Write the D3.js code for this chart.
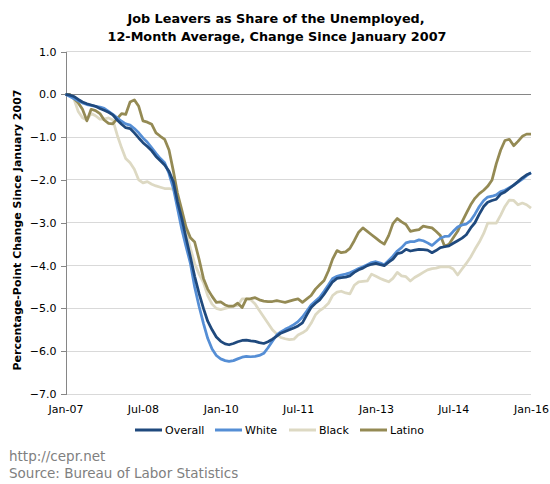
<!DOCTYPE html>
<html><head><meta charset="utf-8">
<script src="https://cdn.jsdelivr.net/npm/d3@7"></script>
<style>body{margin:0;background:#fff;} svg{display:block;}</style>
</head><body>
<svg id="c" width="550" height="484"></svg>
<script>
const startMonth = "2007-01";
const tickLabels = ["Jan-07","Jul-08","Jan-10","Jul-11","Jan-13","Jul-14","Jan-16"];
const yTicks = [1,0,-1,-2,-3,-4,-5,-6,-7];
const seriesNames = ["Overall","White","Black","Latino"];
const seriesColors = ["#1F497D","#558ED5","#DDD9C3","#948A54"];

const overall = [0,-0.02,-0.05,-0.12,-0.18,-0.22,-0.25,-0.28,-0.33,-0.37,-0.42,-0.48,-0.6,-0.7,-0.78,-0.8,-0.9,-1.02,-1.13,-1.22,-1.32,-1.45,-1.55,-1.65,-1.8,-2.05,-2.5,-2.9,-3.35,-3.8,-4.25,-4.65,-5.0,-5.3,-5.5,-5.67,-5.77,-5.83,-5.85,-5.82,-5.78,-5.75,-5.74,-5.76,-5.77,-5.8,-5.82,-5.78,-5.72,-5.65,-5.58,-5.54,-5.5,-5.46,-5.41,-5.34,-5.15,-4.98,-4.88,-4.8,-4.67,-4.52,-4.38,-4.3,-4.28,-4.27,-4.24,-4.16,-4.1,-4.06,-4.0,-3.97,-3.95,-3.98,-4.0,-3.92,-3.85,-3.72,-3.7,-3.62,-3.66,-3.64,-3.62,-3.63,-3.64,-3.7,-3.65,-3.58,-3.56,-3.54,-3.48,-3.42,-3.36,-3.28,-3.12,-3.0,-2.8,-2.62,-2.52,-2.48,-2.45,-2.33,-2.28,-2.2,-2.12,-2.04,-1.95,-1.88,-1.84];
const white = [0,-0.05,-0.1,-0.15,-0.2,-0.24,-0.26,-0.28,-0.3,-0.33,-0.4,-0.47,-0.55,-0.63,-0.69,-0.72,-0.8,-0.9,-1.02,-1.12,-1.25,-1.38,-1.5,-1.6,-1.85,-2.2,-2.65,-3.15,-3.55,-3.95,-4.5,-4.95,-5.35,-5.7,-5.95,-6.1,-6.18,-6.22,-6.24,-6.22,-6.18,-6.14,-6.12,-6.13,-6.12,-6.1,-6.05,-5.92,-5.77,-5.62,-5.55,-5.49,-5.44,-5.38,-5.31,-5.2,-5.06,-4.92,-4.83,-4.74,-4.6,-4.45,-4.3,-4.25,-4.22,-4.2,-4.17,-4.12,-4.07,-4.03,-3.98,-3.93,-3.91,-3.94,-3.98,-3.88,-3.78,-3.66,-3.58,-3.47,-3.44,-3.44,-3.4,-3.42,-3.47,-3.53,-3.45,-3.36,-3.32,-3.31,-3.2,-3.1,-3.05,-3.03,-2.95,-2.8,-2.62,-2.48,-2.4,-2.38,-2.35,-2.27,-2.24,-2.18,-2.12,-2.05,-1.98,-1.9,-1.83];
const black = [0,-0.02,-0.1,-0.4,-0.55,-0.6,-0.45,-0.5,-0.58,-0.58,-0.55,-0.6,-0.95,-1.25,-1.5,-1.6,-1.75,-2.0,-2.07,-2.04,-2.1,-2.14,-2.17,-2.2,-2.2,-2.22,-2.45,-2.8,-3.2,-3.6,-3.95,-4.2,-4.4,-4.7,-4.9,-5.0,-5.03,-5.0,-4.98,-4.95,-4.93,-4.78,-4.78,-4.8,-4.9,-5.05,-5.2,-5.35,-5.5,-5.6,-5.68,-5.71,-5.73,-5.72,-5.62,-5.57,-5.5,-5.35,-5.15,-5.05,-4.98,-4.88,-4.7,-4.62,-4.6,-4.64,-4.66,-4.46,-4.38,-4.37,-4.36,-4.2,-4.25,-4.3,-4.34,-4.38,-4.3,-4.16,-4.24,-4.26,-4.36,-4.28,-4.22,-4.16,-4.1,-4.07,-4.06,-4.03,-4.03,-4.03,-4.08,-4.22,-4.08,-3.95,-3.8,-3.62,-3.45,-3.25,-3.01,-3.01,-3.01,-2.82,-2.62,-2.47,-2.48,-2.58,-2.54,-2.58,-2.66];
const latino = [0,0,-0.1,-0.2,-0.35,-0.62,-0.35,-0.38,-0.45,-0.6,-0.68,-0.69,-0.57,-0.45,-0.47,-0.18,-0.13,-0.28,-0.62,-0.65,-0.7,-0.9,-0.98,-1.05,-1.3,-1.8,-2.3,-2.7,-3.1,-3.35,-3.45,-3.85,-4.3,-4.55,-4.72,-4.86,-4.85,-4.92,-4.95,-4.95,-4.88,-4.98,-4.78,-4.77,-4.75,-4.8,-4.83,-4.84,-4.84,-4.82,-4.84,-4.86,-4.83,-4.8,-4.78,-4.86,-4.78,-4.7,-4.55,-4.45,-4.35,-4.12,-3.85,-3.65,-3.7,-3.68,-3.6,-3.42,-3.22,-3.12,-3.2,-3.28,-3.36,-3.44,-3.5,-3.3,-3.02,-2.9,-2.98,-3.04,-3.2,-3.18,-3.16,-3.08,-3.1,-3.12,-3.2,-3.3,-3.55,-3.5,-3.35,-3.2,-2.98,-2.78,-2.58,-2.43,-2.32,-2.24,-2.15,-2.0,-1.62,-1.3,-1.08,-1.05,-1.2,-1.1,-0.98,-0.93,-0.93];

const seriesData = [overall, white, black, latino];
const parse = d3.timeParse("%Y-%m");
const t0 = parse(startMonth);
const dates = overall.map((_, i) => d3.timeMonth.offset(t0, i));
const tickDates = tickLabels.map(s => d3.timeParse("%b-%y")(s));

const svg = d3.select("#c");
const font = "Verdana, 'DejaVu Sans', sans-serif";
const L = 65.5, R = 531, T = 51.5, B = 394;
const x = d3.scaleTime().domain([dates[0], tickDates[tickDates.length-1]]).range([L, R]);
const y = d3.scaleLinear().domain([-7, 1]).range([B, T]);

// gridlines
svg.append("g").selectAll("line").data(yTicks.filter(v => v !== 0)).join("line")
  .attr("x1", L).attr("x2", R).attr("y1", d => y(d)).attr("y2", d => y(d))
  .attr("stroke", "#D9D9D9").attr("stroke-width", 1).attr("shape-rendering","crispEdges");

// y axis
const yAxis = d3.axisLeft(y).tickValues(yTicks).tickFormat(d3.format(".1f")).tickSize(5).tickPadding(4);
const ya = svg.append("g").attr("transform", `translate(${L},0)`).call(yAxis);
ya.select(".domain").attr("stroke", "#868686").attr("shape-rendering","crispEdges");
ya.selectAll(".tick line").attr("stroke", "#868686").attr("shape-rendering","crispEdges");
ya.selectAll("text").attr("font-family", font).attr("font-size", 11).attr("fill", "#000");

// zero line
svg.append("line").attr("x1", L).attr("x2", R).attr("y1", y(0)).attr("y2", y(0))
  .attr("stroke", "#868686").attr("stroke-width", 1).attr("shape-rendering","crispEdges");

// x axis labels
const xAxis = d3.axisBottom(x).tickValues(tickDates).tickFormat((d, i) => tickLabels[i]).tickSize(0).tickPadding(11);
const xa = svg.append("g").attr("transform", `translate(0,${B})`).call(xAxis);
xa.select(".domain").remove();
xa.selectAll("text").attr("font-family", font).attr("font-size", 11).attr("fill", "#000");

// lines
const line = d3.line().x((d, i) => x(dates[i])).y(d => y(d));
[2, 3, 1, 0].forEach(k => {
  svg.append("path").datum(seriesData[k]).attr("d", line)
    .attr("fill", "none").attr("stroke", seriesColors[k]).attr("stroke-width", 2.75)
    .attr("stroke-linejoin", "round");
});

// title
svg.append("text").attr("x", 276).attr("y", 23).attr("text-anchor", "middle")
  .attr("font-family", font).attr("font-weight", "bold").attr("font-size", 12.8).attr("fill", "#000")
  .text("Job Leavers as Share of the Unemployed,");
svg.append("text").attr("x", 277).attr("y", 40.5).attr("text-anchor", "middle")
  .attr("font-family", font).attr("font-weight", "bold").attr("font-size", 12.8).attr("fill", "#000")
  .text("12-Month Average, Change Since January 2007");

// y title
svg.append("text").attr("transform", "translate(21,230) rotate(-90)").attr("text-anchor", "middle")
  .attr("font-family", font).attr("font-weight", "bold").attr("font-size", 11).attr("fill", "#000")
  .text("Percentage-Point Change Since January 2007");

// legend
const legX = [135, 215, 289, 360];
const lg = svg.append("g");
seriesNames.forEach((n, i) => {
  lg.append("line").attr("x1", legX[i]).attr("x2", legX[i] + 27).attr("y1", 430).attr("y2", 430)
    .attr("stroke", seriesColors[i]).attr("stroke-width", 3);
  lg.append("text").attr("x", legX[i] + 30).attr("y", 434).attr("font-family", font)
    .attr("font-size", 11).attr("fill", "#000").text(n);
});

// source
svg.append("text").attr("x", 9).attr("y", 461).attr("font-family", font).attr("font-size", 13.5)
  .attr("fill", "#808080").text("http://cepr.net");
svg.append("text").attr("x", 9).attr("y", 478).attr("font-family", font).attr("font-size", 13.5)
  .attr("fill", "#808080").text("Source: Bureau of Labor Statistics");
</script>
</body></html>
